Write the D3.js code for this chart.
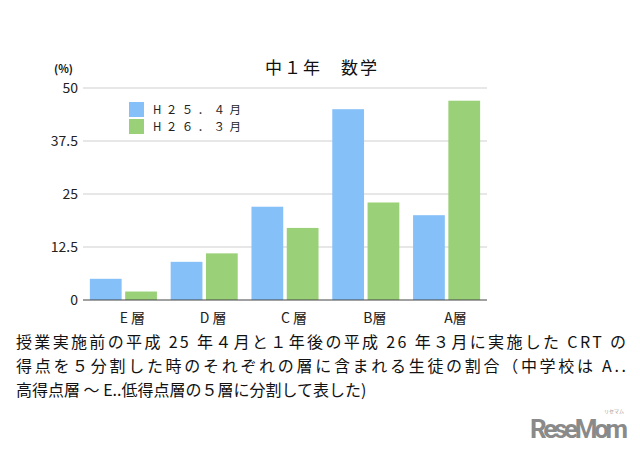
<!DOCTYPE html>
<html>
<head>
<meta charset="utf-8">
<script src="https://cdn.jsdelivr.net/npm/d3@7"></script>
<style>
  body { margin: 0; background: #fff; }
  svg { display: block; }
</style>
</head>
<body>
<svg id="chart" width="640" height="449"></svg>
<script>
const categories = ["E 層", "D 層", "C 層", "B層", "A層"];
const seriesNames = ["H２５．４月", "H２６．３月"];
const h25 = [5, 9, 22, 45, 20];
const h26 = [2, 11, 17, 23, 47];
const yTicks = [0, 12.5, 25, 37.5, 50];
const captionLines = [
  "授業実施前の平成 25 年４月と１年後の平成 26 年３月に実施した CRT の",
  "得点を５分割した時のそれぞれの層に含まれる生徒の割合（中学校は A..",
  "高得点層 〜 E..低得点層の５層に分割して表した)"
];
const colors = ["#86c0f8", "#9ad178"];

const svg = d3.select("#chart");
const font = "'Noto Sans CJK JP', 'Noto Sans', sans-serif";
const margin = { left: 83, right: 153, top: 88, bottom: 149 };
const width = 640 - margin.left - margin.right;
const height = 449 - margin.top - margin.bottom;

const g = svg.append("g").attr("transform", `translate(${margin.left},${margin.top})`);

const x = d3.scaleBand().domain(categories).range([0, width]).paddingInner(0.17).paddingOuter(0.085);
const xs = d3.scaleBand().domain(seriesNames).range([0, x.bandwidth()]).paddingInner(0.1);
const y = d3.scaleLinear().domain([0, 50]).range([height, 0]);

// gridlines
g.selectAll(".grid")
  .data(yTicks.filter(d => d > 0))
  .join("line")
  .attr("x1", 0).attr("x2", width)
  .attr("y1", d => y(d)).attr("y2", d => y(d))
  .attr("stroke", "#cfcfcf").attr("stroke-width", 1);

// y labels
g.selectAll(".ylab")
  .data(yTicks)
  .join("text")
  .attr("x", -5).attr("y", d => y(d) + 5)
  .attr("text-anchor", "end")
  .attr("font-family", font).attr("font-size", 14).attr("fill", "#222")
  .text(d => d);

const rows = categories.map((c, i) => ({ cat: c, vals: [h25[i], h26[i]] }));

g.selectAll(".grp")
  .data(rows)
  .join("g")
  .attr("transform", d => `translate(${x(d.cat)},0)`)
  .selectAll("rect")
  .data(d => d.vals.map((v, j) => ({ name: seriesNames[j], v, j })))
  .join("rect")
  .attr("x", d => xs(d.name))
  .attr("width", xs.bandwidth())
  .attr("y", d => y(d.v))
  .attr("height", d => y(0) - y(d.v))
  .attr("fill", d => colors[d.j]);

// baseline
g.append("line")
  .attr("x1", 0).attr("x2", width)
  .attr("y1", y(0)).attr("y2", y(0))
  .attr("stroke", "#444").attr("stroke-width", 1.2);

// x labels
g.selectAll(".xlab")
  .data(categories)
  .join("text")
  .attr("x", d => x(d) + x.bandwidth() / 2 + 9)
  .attr("y", height + 23)
  .attr("text-anchor", "middle")
  .attr("font-family", font).attr("font-size", 14).attr("fill", "#222")
  .attr("xml:space", "preserve")
  .text(d => d);

// title
svg.append("text")
  .attr("x", 265).attr("y", 74)
  .attr("font-family", font).attr("font-size", 17).attr("fill", "#111")
  .attr("xml:space", "preserve")
  .attr("textLength", 112)
  .text("中１年　数学");

// unit
svg.append("text")
  .attr("x", 54).attr("y", 73)
  .attr("font-family", font).attr("font-size", 11).attr("font-weight", "bold").attr("fill", "#111")
  .text("(%)");

// legend
const legend = svg.append("g").attr("transform", "translate(129,102)");
legend.selectAll("rect")
  .data(seriesNames)
  .join("rect")
  .attr("y", (d, i) => i * 17)
  .attr("width", 15).attr("height", 15)
  .attr("fill", (d, i) => colors[i]);
legend.selectAll("text")
  .data(seriesNames)
  .join("text")
  .attr("x", 24).attr("y", (d, i) => i * 17 + 12)
  .attr("font-family", font).attr("font-size", 11.5).attr("fill", "#222")
  .attr("textLength", 88)
  .text(d => d);

// caption
svg.selectAll(".cap")
  .data(captionLines)
  .join("text")
  .attr("x", 16).attr("y", (d, i) => 348 + i * 24)
  .attr("font-family", font).attr("font-size", 16).attr("fill", "#111")
  .attr("textLength", (d, i) => i < 2 ? 610 : null)
  .attr("xml:space", "preserve")
  .text(d => d);

// logo
svg.append("text")
  .attr("x", 628).attr("y", 438)
  .attr("text-anchor", "end")
  .attr("font-family", "'Liberation Sans Narrow', 'Roboto', sans-serif")
  .attr("font-size", 26).attr("font-weight", "bold").attr("fill", "#8a8a8a")
  .attr("textLength", 98)
  .text("ReseMom");
svg.append("text")
  .attr("x", 624).attr("y", 413)
  .attr("text-anchor", "end")
  .attr("font-family", font).attr("font-size", 5).attr("fill", "#999")
  .text("リセマム");
</script>
</body>
</html>
